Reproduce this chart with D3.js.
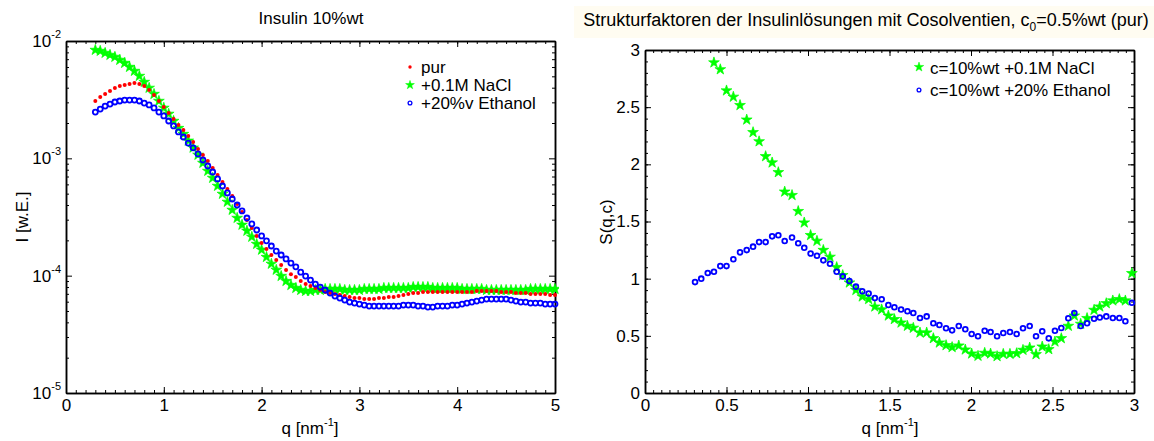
<!DOCTYPE html>
<html>
<head>
<meta charset="utf-8">
<script src="https://cdn.jsdelivr.net/npm/d3@7"></script>
<style>
  body { margin: 0; background: #fff; }
  svg { display: block; font-family: "Liberation Sans", Arial, Helvetica, sans-serif; }
  .domain { stroke: #000; stroke-width: 1.5; }
  .tick line { stroke: #000; stroke-width: 1; }
</style>
</head>
<body>
<svg id="chart" width="1154" height="441"></svg>
<script>
// ---- Scattering curves I(q), insulin 10%wt ----
const qI = [0.30,0.35,0.40,0.45,0.50,0.55,0.60,0.65,0.70,0.75,0.80,0.85,0.90,0.95,1.00,1.05,1.10,1.15,1.20,1.25,
  1.30,1.35,1.40,1.45,1.50,1.55,1.60,1.65,1.70,1.75,1.80,1.85,1.90,1.95,2.00,2.05,2.10,2.15,2.20,2.25,
  2.30,2.35,2.40,2.45,2.50,2.55,2.60,2.65,2.70,2.75,2.80,2.85,2.90,2.95,3.00,3.05,3.10,3.15,3.20,3.25,
  3.30,3.35,3.40,3.45,3.50,3.55,3.60,3.65,3.70,3.75,3.80,3.85,3.90,3.95,4.00,4.05,4.10,4.15,4.20,4.25,
  4.30,4.35,4.40,4.45,4.50,4.55,4.60,4.65,4.70,4.75,4.80,4.85,4.90,4.95,5.00];

const iPur = [3.08e-3,3.33e-3,3.53e-3,3.75e-3,3.98e-3,4.14e-3,4.22e-3,4.30e-3,4.39e-3,4.30e-3,4.14e-3,3.82e-3,3.47e-3,3.08e-3,2.74e-3,2.43e-3,2.16e-3,1.92e-3,1.74e-3,1.55e-3,
  1.38e-3,1.20e-3,1.07e-3,9.49e-4,8.27e-4,7.21e-4,6.29e-4,5.48e-4,4.78e-4,4.08e-4,3.49e-4,2.98e-4,2.55e-4,2.18e-4,1.90e-4,1.69e-4,1.50e-4,1.36e-4,1.23e-4,1.12e-4,
  1.03e-4,9.73e-5,8.99e-5,8.48e-5,8.15e-5,7.84e-5,7.54e-5,7.25e-5,7.11e-5,6.97e-5,6.83e-5,6.70e-5,6.57e-5,6.44e-5,6.44e-5,6.32e-5,6.32e-5,6.32e-5,6.44e-5,6.44e-5,
  6.57e-5,6.57e-5,6.70e-5,6.83e-5,6.97e-5,7.11e-5,7.11e-5,7.25e-5,7.25e-5,7.25e-5,7.25e-5,7.25e-5,7.25e-5,7.25e-5,7.25e-5,7.25e-5,7.25e-5,7.25e-5,7.39e-5,7.39e-5,
  7.39e-5,7.39e-5,7.39e-5,7.25e-5,7.25e-5,7.25e-5,7.11e-5,7.11e-5,7.11e-5,6.97e-5,6.97e-5,6.97e-5,6.97e-5,6.83e-5,6.83e-5];

const iNaCl = [8.38e-3,8.22e-3,7.90e-3,7.60e-3,7.31e-3,6.89e-3,6.49e-3,6.00e-3,5.55e-3,5.03e-3,4.47e-3,3.98e-3,3.53e-3,3.08e-3,2.69e-3,2.39e-3,2.08e-3,1.81e-3,1.61e-3,1.41e-3,
  1.23e-3,1.07e-3,9.12e-4,7.80e-4,6.80e-4,5.81e-4,4.97e-4,4.25e-4,3.63e-4,3.10e-4,2.71e-4,2.41e-4,2.14e-4,1.86e-4,1.66e-4,1.44e-4,1.26e-4,1.12e-4,9.92e-5,8.99e-5,
  8.31e-5,7.84e-5,7.54e-5,7.39e-5,7.39e-5,7.54e-5,7.54e-5,7.69e-5,7.69e-5,7.69e-5,7.69e-5,7.54e-5,7.54e-5,7.54e-5,7.54e-5,7.69e-5,7.69e-5,7.69e-5,7.69e-5,7.84e-5,
  7.84e-5,7.84e-5,7.84e-5,7.84e-5,7.84e-5,7.99e-5,7.99e-5,7.99e-5,7.99e-5,7.84e-5,7.84e-5,7.84e-5,7.84e-5,7.84e-5,7.84e-5,7.69e-5,7.69e-5,7.69e-5,7.69e-5,7.69e-5,
  7.54e-5,7.54e-5,7.54e-5,7.54e-5,7.54e-5,7.54e-5,7.54e-5,7.54e-5,7.54e-5,7.69e-5,7.69e-5,7.69e-5,7.69e-5,7.69e-5,7.69e-5];

const iEthanol = [2.48e-3,2.63e-3,2.79e-3,2.90e-3,3.02e-3,3.08e-3,3.14e-3,3.14e-3,3.14e-3,3.08e-3,2.96e-3,2.85e-3,2.69e-3,2.48e-3,2.30e-3,2.08e-3,1.89e-3,1.68e-3,1.52e-3,1.35e-3,
  1.23e-3,1.09e-3,9.68e-4,8.60e-4,7.65e-4,6.67e-4,5.81e-4,5.07e-4,4.50e-4,4.00e-4,3.56e-4,3.10e-4,2.76e-4,2.45e-4,2.18e-4,1.98e-4,1.79e-4,1.62e-4,1.50e-4,1.39e-4,
  1.28e-4,1.19e-4,1.07e-4,9.92e-5,9.17e-5,8.48e-5,7.99e-5,7.54e-5,7.11e-5,6.70e-5,6.44e-5,6.19e-5,5.96e-5,5.84e-5,5.73e-5,5.62e-5,5.51e-5,5.51e-5,5.51e-5,5.51e-5,
  5.51e-5,5.51e-5,5.51e-5,5.62e-5,5.62e-5,5.62e-5,5.51e-5,5.51e-5,5.40e-5,5.40e-5,5.51e-5,5.51e-5,5.51e-5,5.62e-5,5.62e-5,5.73e-5,5.84e-5,5.96e-5,6.07e-5,6.19e-5,
  6.32e-5,6.32e-5,6.32e-5,6.32e-5,6.32e-5,6.19e-5,6.07e-5,5.96e-5,5.96e-5,5.84e-5,5.84e-5,5.84e-5,5.73e-5,5.73e-5,5.73e-5];

// ---- Structure factors S(q,c) ----
const qS = [0.307,0.345,0.385,0.423,0.462,0.500,0.542,0.583,0.624,0.663,
  0.700,0.740,0.780,0.818,0.857,0.902,0.940,0.977,1.016,1.055,
  1.094,1.135,1.176,1.213,1.254,1.294,1.333,1.372,1.410,1.452,
  1.493,1.530,1.571,1.610,1.646,1.687,1.728,1.769,1.806,1.847,
  1.884,1.925,1.965,2.004,2.043,2.084,2.120,2.160,2.198,2.239,
  2.280,2.319,2.360,2.399,2.437,2.477,2.515,2.554,2.597,2.634,
  2.673,2.712,2.755,2.790,2.830,2.870,2.910,2.947,2.987];

const sNaCl = [null,null,null,2.89,2.83,2.645,2.59,2.517,2.39,2.28,
  2.20,2.07,2.015,1.93,1.76,1.73,1.59,1.49,1.38,1.33,
  1.25,1.19,1.10,1.03,0.965,0.90,0.843,0.82,0.755,0.73,
  0.676,0.645,0.615,0.586,0.569,0.528,0.528,0.478,0.44,0.417,
  0.40,0.414,0.379,0.344,0.324,0.35,0.344,0.321,0.341,0.341,
  0.347,0.376,0.396,0.338,0.405,0.382,0.449,0.478,0.586,0.676,
  0.604,0.654,0.726,0.755,0.784,0.808,0.82,0.808,1.047];

const sEthanol = [0.97,1.00,1.05,1.06,1.11,1.11,1.17,1.23,1.25,1.28,
  1.32,1.32,1.37,1.38,1.33,1.36,1.31,1.27,1.22,1.20,
  1.16,1.13,1.06,1.02,0.98,0.93,0.89,0.87,0.83,0.82,
  0.77,0.75,0.73,0.715,0.70,0.656,0.67,0.61,0.595,0.566,
  0.548,0.586,0.557,0.516,0.496,0.545,0.534,0.496,0.525,0.534,
  0.516,0.566,0.586,0.496,0.54,0.478,0.545,0.569,0.654,0.70,
  0.586,0.61,0.65,0.66,0.67,0.656,0.656,0.627,0.79];

// ---- Tick labels ----
const xTicksI = [0,1,2,3,4,5];
const yTicksI = [1e-5,1e-4,1e-3,1e-2];
const yTickExp = ["-5","-4","-3","-2"];
const xTicksS = [0,0.5,1,1.5,2,2.5,3];
const yTicksS = [0,0.5,1,1.5,2,2.5,3];

const legendI = ["pur","+0.1M NaCl","+20%v Ethanol"];
const legendS = ["c=10%wt +0.1M NaCl","c=10%wt +20% Ethanol"];

const RED = "#ff0000", GREEN = "#00ff00", BLUE = "#0000ff";
const svg = d3.select("#chart");
const FONT = "\"Liberation Sans\", Arial, Helvetica, sans-serif";

// faint band behind the right title
svg.append("rect").attr("x", 574).attr("y", 6).attr("width", 580).attr("height", 32).attr("fill", "#fffcf1");

const pL = {left: 66, right: 555, top: 41, bottom: 393};
const pR = {left: 645, right: 1134, top: 50, bottom: 393};

const xL = d3.scaleLinear().domain([0, 5]).range([pL.left, pL.right]);
const yL = d3.scaleLog().domain([1e-5, 1e-2]).range([pL.bottom, pL.top]);
const xR = d3.scaleLinear().domain([0, 3]).range([pR.left, pR.right]);
const yR = d3.scaleLinear().domain([0, 3]).range([pR.bottom, pR.top]);

// boxed axes with inward ticks on all four sides
function boxAxes(p, x, y, xMaj, xMin, yMaj, yMin, xFmt, yFmt) {
  const g = svg.append("g");
  const put = (axis, tx, ty) => g.append("g").attr("transform", `translate(${tx},${ty})`).call(axis)
      .attr("font-family", FONT).attr("font-size", 17);
  const none = () => "";
  put(d3.axisBottom(x).tickValues(xMin).tickSizeInner(-3).tickSizeOuter(0).tickFormat(none), 0, p.bottom);
  put(d3.axisTop(x).tickValues(xMin).tickSizeInner(-3).tickSizeOuter(0).tickFormat(none), 0, p.top);
  put(d3.axisLeft(y).tickValues(yMin).tickSizeInner(-3).tickSizeOuter(0).tickFormat(none), p.left, 0);
  put(d3.axisRight(y).tickValues(yMin).tickSizeInner(-3).tickSizeOuter(0).tickFormat(none), p.right, 0);
  put(d3.axisBottom(x).tickValues(xMaj).tickSizeInner(-6).tickSizeOuter(0).tickPadding(6).tickFormat(xFmt), 0, p.bottom);
  put(d3.axisTop(x).tickValues(xMaj).tickSizeInner(-6).tickSizeOuter(0).tickFormat(none), 0, p.top);
  put(d3.axisLeft(y).tickValues(yMaj).tickSizeInner(-6).tickSizeOuter(0).tickPadding(5).tickFormat(yFmt), p.left, 0);
  put(d3.axisRight(y).tickValues(yMaj).tickSizeInner(-6).tickSizeOuter(0).tickFormat(none), p.right, 0);
  g.selectAll(".tick text").attr("fill", "#000");
  return g;
}

// ---------------- Left panel ----------------
const minorLog = [];
[1e-5, 1e-4, 1e-3].forEach(d => { for (let k = 2; k <= 9; k++) minorLog.push(k * d); });
boxAxes(pL, xL, yL, xTicksI, d3.range(0, 5.001, 0.1), yTicksI, minorLog, d => String(d), () => "");

const yLab = svg.append("g").attr("font-family", FONT);
yTicksI.forEach((t, i) => {
  const tx = yLab.append("text").attr("x", 61).attr("y", yL(t) + 6).attr("text-anchor", "end")
    .attr("font-size", 17).attr("fill", "#000");
  tx.append("tspan").text("10");
  tx.append("tspan").attr("font-size", 11).attr("dy", -9).text(yTickExp[i]);
});

svg.append("clipPath").attr("id", "clipL").append("rect")
  .attr("x", pL.left).attr("y", pL.top - 6).attr("width", pL.right - pL.left + 4).attr("height", pL.bottom - pL.top + 6);

const starL = d3.symbol(d3.symbolStar).size(36)();
const gL = svg.append("g").attr("clip-path", "url(#clipL)");
gL.selectAll(".na").data(qI.map((q, i) => [q, iNaCl[i]])).join("path")
  .attr("d", starL).attr("transform", d => `translate(${xL(d[0])},${yL(d[1])})`)
  .attr("fill", GREEN).attr("stroke", GREEN).attr("stroke-width", 0.7);
gL.selectAll(".pu").data(qI.map((q, i) => [q, iPur[i]])).join("circle")
  .attr("cx", d => xL(d[0])).attr("cy", d => yL(d[1])).attr("r", 2.0).attr("fill", RED);
gL.selectAll(".et").data(qI.map((q, i) => [q, iEthanol[i]])).join("circle")
  .attr("cx", d => xL(d[0])).attr("cy", d => yL(d[1])).attr("r", 2.5)
  .attr("fill", "none").attr("stroke", BLUE).attr("stroke-width", 1.8);

// legend (left)
const lgL = svg.append("g").attr("font-family", FONT).attr("font-size", 17);
lgL.append("circle").attr("cx", 410).attr("cy", 67).attr("r", 1.7).attr("fill", RED);
lgL.append("path").attr("d", d3.symbol(d3.symbolStar).size(24)()).attr("transform", "translate(410,85)")
  .attr("fill", GREEN).attr("stroke", GREEN).attr("stroke-width", 0.5);
lgL.append("circle").attr("cx", 410).attr("cy", 103).attr("r", 1.9).attr("fill", "none").attr("stroke", BLUE).attr("stroke-width", 1.3);
[73, 91, 109].forEach((y, i) => lgL.append("text").attr("x", 421).attr("y", y).text(legendI[i]));

// titles and labels (left)
svg.append("text").attr("x", 311).attr("y", 24).attr("text-anchor", "middle")
  .attr("font-family", FONT).attr("font-size", 17).text("Insulin 10%wt");
svg.append("text").attr("transform", "translate(28,217) rotate(-90)").attr("text-anchor", "middle")
  .attr("font-family", FONT).attr("font-size", 17).text("I [w.E.]");
function qLabel(cx) {
  const t = svg.append("text").attr("x", cx).attr("y", 434).attr("text-anchor", "middle")
    .attr("font-family", FONT).attr("font-size", 17);
  t.append("tspan").text("q [nm");
  t.append("tspan").attr("font-size", 11).attr("dy", -8).text("-1");
  t.append("tspan").attr("dy", 8).text("]");
}
qLabel(310);

// ---------------- Right panel ----------------
boxAxes(pR, xR, yR, xTicksS, d3.range(0, 3.001, 0.05), yTicksS, d3.range(0, 3.001, 0.1),
  d => String(d), d => String(d));

svg.append("clipPath").attr("id", "clipR").append("rect")
  .attr("x", pR.left).attr("y", pR.top).attr("width", pR.right - pR.left + 6).attr("height", pR.bottom - pR.top);

const starR = d3.symbol(d3.symbolStar).size(36)();
const gR = svg.append("g").attr("clip-path", "url(#clipR)");
gR.selectAll(".na").data(qS.map((q, i) => [q, sNaCl[i]]).filter(d => d[1] != null)).join("path")
  .attr("d", starR).attr("transform", d => `translate(${xR(d[0])},${yR(d[1])})`)
  .attr("fill", GREEN).attr("stroke", GREEN).attr("stroke-width", 0.7);
gR.selectAll(".et").data(qS.map((q, i) => [q, sEthanol[i]])).join("circle")
  .attr("cx", d => xR(d[0])).attr("cy", d => yR(d[1])).attr("r", 2.4)
  .attr("fill", "none").attr("stroke", BLUE).attr("stroke-width", 1.8);

// legend (right)
const lgR = svg.append("g").attr("font-family", FONT).attr("font-size", 17);
lgR.append("path").attr("d", d3.symbol(d3.symbolStar).size(28)()).attr("transform", "translate(919,67)")
  .attr("fill", GREEN).attr("stroke", GREEN).attr("stroke-width", 0.5);
lgR.append("circle").attr("cx", 919).attr("cy", 90).attr("r", 1.9).attr("fill", "none").attr("stroke", BLUE).attr("stroke-width", 1.3);
[74, 96].forEach((y, i) => lgR.append("text").attr("x", 930).attr("y", y).text(legendS[i]));

// titles and labels (right)
const tR = svg.append("text").attr("x", 866).attr("y", 26).attr("text-anchor", "middle")
  .attr("font-family", FONT).attr("font-size", 18);
tR.append("tspan").text("Strukturfaktoren der Insulinlösungen mit Cosolventien, c");
tR.append("tspan").attr("font-size", 12).attr("dy", 5).text("0");
tR.append("tspan").attr("dy", -5).text("=0.5%wt (pur)");
svg.append("text").attr("transform", "translate(612,222) rotate(-90)").attr("text-anchor", "middle")
  .attr("font-family", FONT).attr("font-size", 17).text("S(q,c)");
qLabel(890);
</script>
</body>
</html>
